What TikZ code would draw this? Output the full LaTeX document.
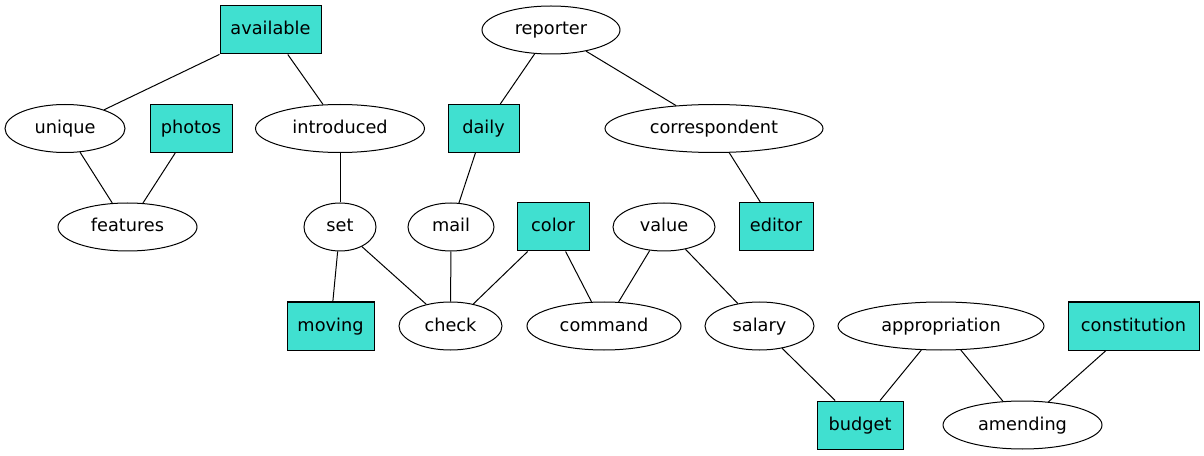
\documentclass[tikz,border=0pt]{standalone}
\usepackage{fontspec}
\setmainfont{DejaVu Sans}
\usepackage{tikz}
\usetikzlibrary{shapes.geometric}

\definecolor{turq}{HTML}{40E0D0}

\begin{document}
\begin{tikzpicture}[x=0.75pt,y=0.75pt,yscale=-1,xscale=1,
        every node/.style={font=\fontsize{13.3}{16}\selectfont, inner sep=0pt, minimum height=36pt, text height=10pt, text depth=2.5pt, line width=0.75pt},
        word/.style={draw, ellipse},
        keyword/.style={draw, rectangle, fill=turq},
        every path/.style={line width=0.75pt}]
        \path[use as bounding box] (0,0) rectangle (1204,456); %set diagram size 1204 x 456

        % Top row
        \node [keyword, minimum width=75.75pt] (available) at (270.5,30) {available};
        \node [word, minimum width=103.5pt] (reporter) at (551,30) {reporter};
        % Second row
        \node [word, minimum width=90pt] (unique) at (65,128.5) {unique};
        \node [keyword, minimum width=61.5pt] (photos) at (191,128.5) {photos};
        \node [word, minimum width=126.75pt] (introduced) at (340,128.5) {introduced};
        \node [keyword, minimum width=53.25pt] (daily) at (483.5,128.5) {daily};
        \node [word, minimum width=163.5pt] (correspondent) at (714,128.5) {correspondent};
        % Third row
        \node [word, minimum width=104.25pt] (features) at (127.5,227) {features};
        \node [word, minimum width=54pt] (set) at (340,227) {set};
        \node [word, minimum width=64.5pt] (mail) at (451,227) {mail};
        \node [keyword, minimum width=54pt] (color) at (553,227) {color};
        \node [word, minimum width=76.5pt] (value) at (664,227) {value};
        \node [keyword, minimum width=55.5pt] (editor) at (776,227) {editor};
        % Fourth row
        \node [keyword, minimum width=65.25pt] (moving) at (330.5,326) {moving};
        \node [word, minimum width=77.25pt] (check) at (450.5,326) {check};
        \node [word, minimum width=115.5pt] (command) at (604,326) {command};
        \node [word, minimum width=81.75pt] (salary) at (759.5,326) {salary};
        \node [word, minimum width=154.5pt] (appropriation) at (941,326) {appropriation};
        \node [keyword, minimum width=98.25pt] (constitution) at (1133.5,326) {constitution};
        % Bottom row
        \node [keyword, minimum width=64.5pt] (budget) at (860,425) {budget};
        \node [word, minimum width=119.25pt] (amending) at (1022.5,425) {amending};

        % Edges
        \draw (available) -- (unique);
        \draw (available) -- (introduced);
        \draw (unique) -- (features);
        \draw (photos) -- (features);
        \draw (introduced) -- (set);
        \draw (reporter) -- (daily);
        \draw (reporter) -- (correspondent);
        \draw (daily) -- (mail);
        \draw (correspondent) -- (editor);
        \draw (set) -- (moving);
        \draw (set) -- (check);
        \draw (mail) -- (check);
        \draw (color) -- (check);
        \draw (color) -- (command);
        \draw (value) -- (command);
        \draw (value) -- (salary);
        \draw (salary) -- (budget);
        \draw (appropriation) -- (budget);
        \draw (appropriation) -- (amending);
        \draw (constitution) -- (amending);

\end{tikzpicture}
\end{document}
